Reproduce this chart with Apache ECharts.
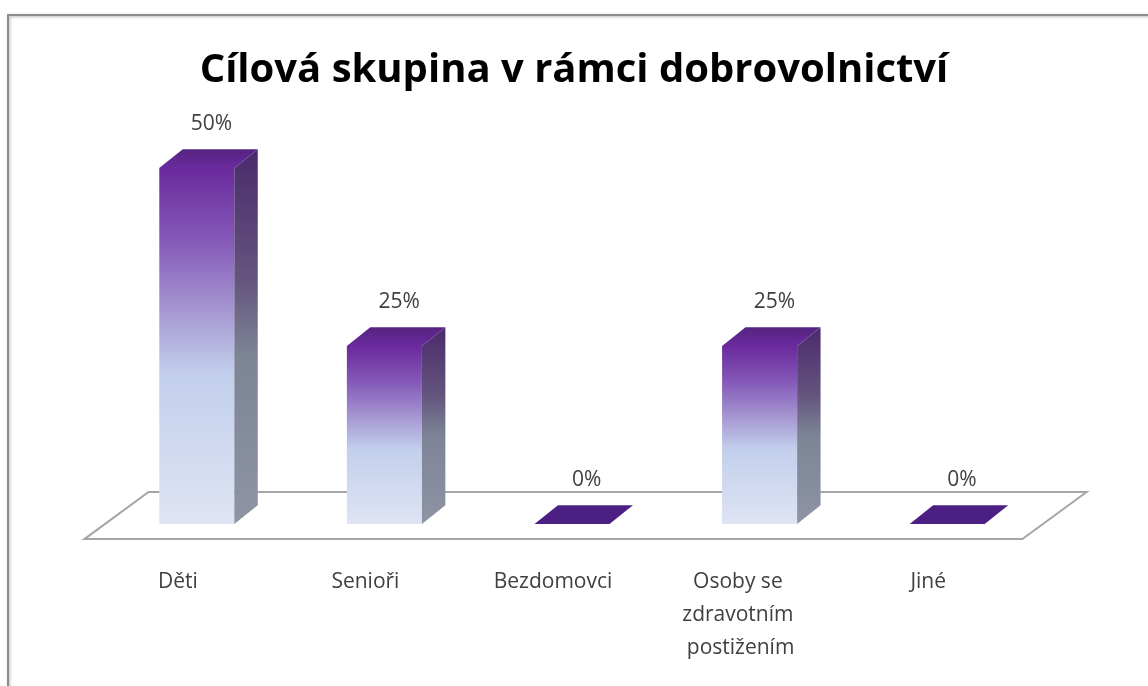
<!DOCTYPE html>
<html>
<head>
<meta charset="utf-8">
<script src="https://cdn.jsdelivr.net/npm/echarts@6/dist/echarts.min.js"></script>
<style>html,body{margin:0;padding:0;background:#fff}#c{width:1148px;height:686px}</style>
</head>
<body>
<div id="c"></div>
<script>
var titleText = 'Cílová skupina v rámci dobrovolnictví';
var categories = ['Děti', 'Senioři', 'Bezdomovci', 'Osoby se zdravotním postižením', 'Jiné'];
var values = [50, 25, 0, 25, 0];

var chart = echarts.init(document.getElementById('c'));

var FONT = '"Open Sans", "DejaVu Sans", sans-serif';

function frontGrad() {
  return new echarts.graphic.LinearGradient(0, 0, 0, 1, [
    {offset: 0, color: '#6a2a9c'},
    {offset: 0.2, color: '#8458b8'},
    {offset: 0.42, color: '#a99dd4'},
    {offset: 0.58, color: '#c2cfec'},
    {offset: 1, color: '#dfe4f4'}
  ]);
}
function sideGrad() {
  return new echarts.graphic.LinearGradient(0, 0, 0, 1, [
    {offset: 0, color: '#4a2a6c'},
    {offset: 0.35, color: '#65557e'},
    {offset: 0.55, color: '#7c8496'},
    {offset: 1, color: '#8e94a4'}
  ]);
}

function renderBar(params, api) {
  var idx = api.value(0), v = api.value(1);
  var top = api.coord([idx, v]);
  var base = api.coord([idx, 0]);
  var band = api.size([1, 0])[0];
  var w = band * 0.4;
  var dx = band * 0.125;
  var dy = -dx * 0.8;
  var x0 = base[0] - w / 2, x1 = base[0] + w / 2;
  var yb = base[1], yt = top[1];
  var children = [];
  if (v > 0) {
    children.push({type: 'polygon', shape: {points: [[x0, yt], [x1, yt], [x1, yb], [x0, yb]]}, style: {fill: frontGrad()}});
    children.push({type: 'polygon', shape: {points: [[x1, yt], [x1 + dx, yt + dy], [x1 + dx, yb + dy], [x1, yb]]}, style: {fill: sideGrad()}});
    children.push({type: 'polygon', shape: {points: [[x0, yt], [x0 + dx, yt + dy], [x1 + dx, yt + dy], [x1, yt]]},
      style: {fill: new echarts.graphic.LinearGradient(0, 1, 0, 0, [{offset: 0, color: '#6a2b9e'}, {offset: 1, color: '#54237f'}])}});
  } else {
    children.push({type: 'polygon', shape: {points: [[x0, yt], [x0 + dx, yt + dy], [x1 + dx, yt + dy], [x1, yt]]}, style: {fill: '#4b1f84'}});
  }
  children.push({type: 'text', style: {text: v + '%', x: base[0] + dx / 2 + 3, y: yt + dy - 25,
    align: 'center', verticalAlign: 'middle', fill: '#404040', font: '21px ' + FONT}});
  return {type: 'group', children: children};
}

function renderFloor(params, api) {
  var cs = params.coordSys;
  var y0 = api.coord([0, 0])[1];
  var band = api.size([1, 0])[0];
  var Dx = band * 0.342, Dy = -47 / 64 * Dx;
  var sx = -0.29 * Dx, sy = -0.32 * Dy;
  var fl = [cs.x + sx, y0 + sy];
  var fr = [cs.x + cs.width + sx, y0 + sy];
  return {type: 'polygon', shape: {points: [fl, fr, [fr[0] + Dx, fr[1] + Dy], [fl[0] + Dx, fl[1] + Dy]]},
    style: {fill: '#ffffff', stroke: '#a6a6a6', lineWidth: 2}};
}

var option = {
  backgroundColor: '#ffffff',
  animation: false,
  title: {
    text: titleText, left: 'center', top: 46,
    textStyle: {fontFamily: FONT, fontSize: 40, fontWeight: 'bold', color: '#000'}
  },
  graphic: [{
    type: 'rect', shape: {x: 8, y: 15, width: 1160, height: 700}, z: -1,
    style: {fill: 'none', stroke: '#8c8c8c', lineWidth: 2, shadowBlur: 3, shadowColor: 'rgba(0,0,0,0.3)', shadowOffsetX: 1, shadowOffsetY: 1}
  }],
  grid: {left: 103, right: 107, top: 168, bottom: 162},
  xAxis: {
    type: 'category', data: categories,
    axisLine: {show: false}, axisTick: {show: false}, splitLine: {show: false},
    axisLabel: {interval: 0, margin: 42, color: '#404040', fontFamily: FONT, fontSize: 21, lineHeight: 33,
      width: 140, overflow: 'break', padding: [0, 38, 0, 0], align: 'center'}
  },
  yAxis: {type: 'value', min: 0, max: 50, interval: 10, show: false, splitLine: {show: false}},
  series: [
    {type: 'custom', renderItem: renderFloor, data: [[0, 0]], z: 1, silent: true},
    {type: 'custom', renderItem: renderBar, data: values.map(function (v, i) { return [i, v]; }), z: 2}
  ]
};
chart.setOption(option);
</script>
</body>
</html>
